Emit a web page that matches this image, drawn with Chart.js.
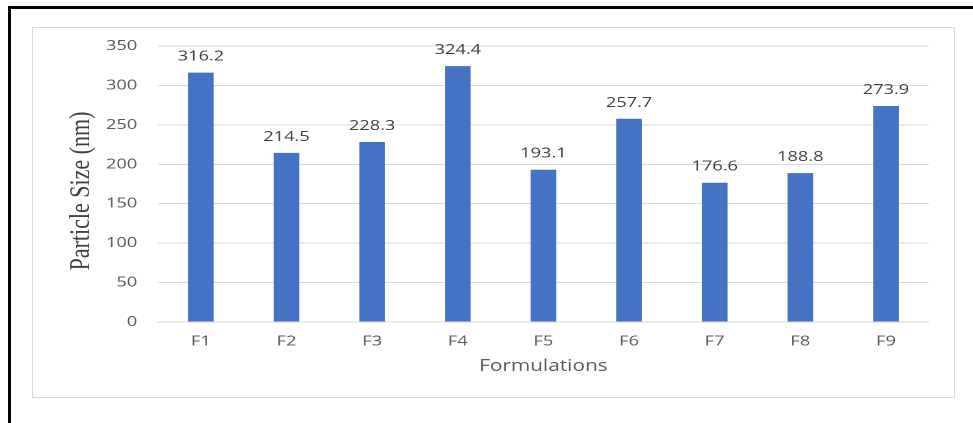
<!DOCTYPE html>
<html>
<head>
<meta charset="utf-8">
<script src="https://cdn.jsdelivr.net/npm/chart.js@4"></script>
<style>
  html, body { margin: 0; padding: 0; background: #fff; }
  #wrap { position: relative; width: 973px; height: 423px; overflow: hidden; }
  #frame {
    position: absolute; left: 8px; top: 6px; width: 990px; height: 414px;
    border-left: 3px solid #000; border-top: 3px solid #000; border-bottom: 1px solid #9a9a9a;
  }
  #panel {
    position: absolute; left: 32px; top: 27px; width: 921px; height: 369px;
    border: 1px solid #d9d9d9;
  }
  /* chart is laid out narrow and stretched sideways */
  #chart { position: absolute; left: 0; top: 0; transform: scaleX(1.3008); transform-origin: 0 0; }
</style>
</head>
<body>
<div id="wrap">
  <div id="frame"></div>
  <div id="panel"></div>
  <canvas id="chart" width="748" height="423" style="width:748px;height:423px"></canvas>
</div>
<script>
/* ---------- Data ---------- */

const formulations = ['F1', 'F2', 'F3', 'F4', 'F5', 'F6', 'F7', 'F8', 'F9'];
const particleSize = [316.2, 214.5, 228.3, 324.4, 193.1, 257.7, 176.6, 188.8, 273.9];
const yTicks = [0, 50, 100, 150, 200, 250, 300, 350];

const BAR_COLOR = '#4472C4';
const TEXT_COLOR = '#595959';
const LABEL_COLOR = '#404040';
const GRID_COLOR = '#d9d9d9';

/* ---------- Plugins ---------- */

// value above every bar
const valueLabels = {
    id: 'valueLabels',
    afterDatasetsDraw(chart) {
        const ctx = chart.ctx;
        const meta = chart.getDatasetMeta(0);
        ctx.save();
        ctx.font = '14px "Open Sans"';
        ctx.fillStyle = LABEL_COLOR;
        ctx.textAlign = 'center';
        ctx.textBaseline = 'middle';
        meta.data.forEach((bar, i) => {
            ctx.fillText(particleSize[i].toFixed(1), bar.x, bar.y - 16);
        });
        ctx.restore();
    },
};

// serif axis title on the left
const yTitle = {
    id: 'yTitle',
    afterDraw(chart) {
        const ctx = chart.ctx;
        ctx.save();
        ctx.translate(62.5, 191);
        ctx.rotate(-Math.PI / 2);
        ctx.font = '22px "Liberation Serif", "Times New Roman", serif';
        ctx.fillStyle = LABEL_COLOR;
        ctx.textAlign = 'center';
        ctx.textBaseline = 'middle';
        ctx.fillText('Particle Size (nm)', 0, 0);
        ctx.restore();
    },
};

/* ---------- Chart ---------- */

new Chart(document.getElementById('chart'), {
    type: 'bar',
    data: {
        labels: formulations,
        datasets: [{
            data: particleSize,
            backgroundColor: BAR_COLOR,
            barPercentage: 0.3,
            categoryPercentage: 1,
        }],
    },
    options: {
        responsive: false,
        animation: false,
        devicePixelRatio: 2,
        layout: { padding: { left: 0, top: 46, right: 34, bottom: 44 } },
        plugins: {
            legend: { display: false },
            tooltip: { enabled: false },
        },
        scales: {
            x: {
                grid: { display: false, drawTicks: false },
                border: { display: true, color: GRID_COLOR, width: 1 },
                ticks: { color: TEXT_COLOR, font: { family: 'Open Sans', size: 14 }, padding: 11 },
                title: {
                    display: true,
                    text: 'Formulations',
                    color: TEXT_COLOR,
                    font: { family: 'Open Sans', size: 16 },
                    padding: { top: 0, bottom: 3 },
                },
                afterFit(scale) { scale.height = 57; },
            },
            y: {
                min: 0,
                max: 350,
                afterBuildTicks(scale) { scale.ticks = yTicks.map(v => ({ value: v })); },
                grid: { color: GRID_COLOR, drawTicks: false },
                border: { display: false },
                ticks: { color: TEXT_COLOR, font: { family: 'Open Sans', size: 14 }, padding: 16 },
                afterFit(scale) { scale.width = 121.5; },
            },
        },
    },
    plugins: [valueLabels, yTitle],
});
</script>
</body>
</html>
